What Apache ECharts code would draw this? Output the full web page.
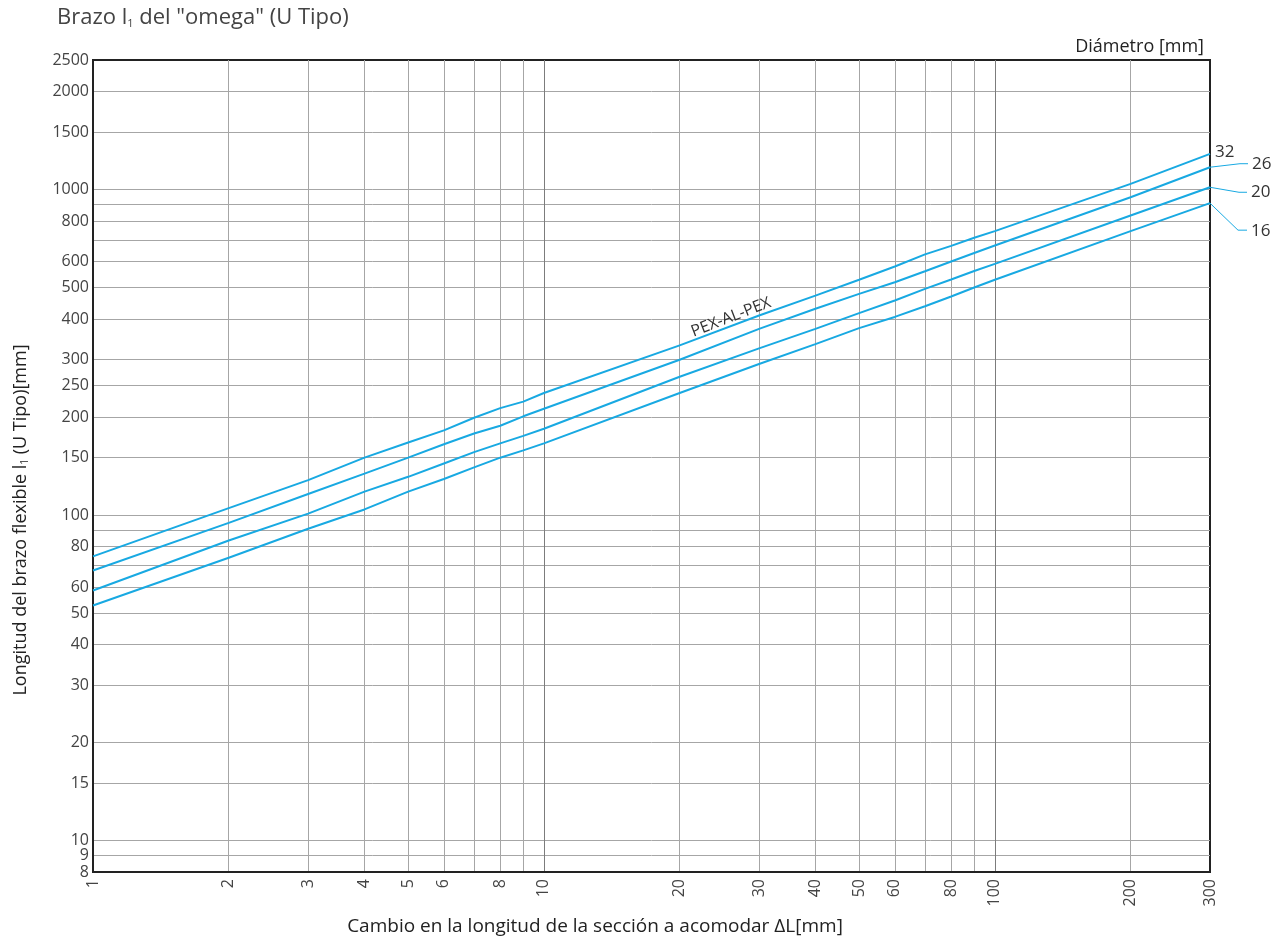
<!DOCTYPE html>
<html lang="es">
<head>
<meta charset="utf-8">
<title>Brazo l1 del omega (U Tipo)</title>
<script src="https://cdn.jsdelivr.net/npm/echarts@6.0.0/dist/echarts.min.js"></script>
<style>
  html, body { margin: 0; padding: 0; background: #fff; }
  #chart-box { width: 1286px; height: 944px; }
</style>
</head>
<body>
<div id="chart-box"></div>
<script>
// valores (mm)
var deltaL = [1, 2, 3, 4, 5, 6, 7, 8, 9, 10, 20, 30, 40, 50, 60, 70, 80, 90, 100, 200, 300];
var d32 = [74.6, 105, 128, 150, 167, 182, 199, 213, 223, 237, 332, 410, 472, 528, 580, 632, 671, 711, 745, 1041, 1287];
var d26 = [67.5, 94.6, 116, 134, 150, 165, 178, 188, 201, 212, 300, 373, 430, 478, 519, 561, 601, 638, 673, 947, 1171];
var d20 = [58.6, 83.5, 101, 118, 131, 144, 156, 166, 175, 184, 266, 325, 373, 417, 456, 495, 529, 562, 591, 832, 1016];
var d16 = [52.7, 73.9, 90.7, 104, 118, 129, 140, 150, 158, 166, 237, 291, 335, 375, 406, 438, 469, 500, 528, 745, 908];
var diametros = ['32', '26', '20', '16'];

var xTicks = [1, 2, 3, 4, 5, 6, 7, 8, 9, 10, 20, 30, 40, 50, 60, 70, 80, 90, 100, 200, 300];
var xLabels = [1, 2, 3, 4, 5, 6, 8, 10, 20, 30, 40, 50, 60, 80, 100, 200, 300];
var yTicks = [8, 9, 10, 15, 20, 30, 40, 50, 60, 70, 80, 90, 100, 150, 200, 250, 300, 400, 500, 600, 700, 800, 900, 1000, 1500, 2000, 2500];
var yLabels = [8, 9, 10, 15, 20, 30, 40, 50, 60, 80, 100, 150, 200, 250, 300, 400, 500, 600, 800, 1000, 1500, 2000, 2500];

var FONT = '"Open Sans", "Noto Sans", sans-serif';
var BLUE = '#18a9e2';

function lg(v) { return Math.log10(v); }
function fmt(v) { return String(Math.round(Math.pow(10, v))); }

var xMin = lg(xTicks[0]), xMax = lg(xTicks[xTicks.length - 1]);
var yMin = lg(yTicks[0]), yMax = lg(yTicks[yTicks.length - 1]);

// lineas de la reticula (sin los bordes)
var xGrid = xTicks.slice(1, -1);
var yGrid = yTicks.slice(1, -1);
var xColors = xGrid.map(function (v) { return (v === 10 || v === 100) ? '#7c7c7c' : '#a6a6a6'; });

var chart = echarts.init(document.querySelector('#chart-box'));

var dataList = [d32, d26, d20, d16].map(function (vals, k) {
  return {
    name: diametros[k],
    type: 'line',
    symbol: 'none',
    lineStyle: { color: BLUE, width: 2 },
    data: deltaL.map(function (x, i) { return [lg(x), lg(vals[i])]; })
  };
});

var options = {
  animation: false,
  title: [{
    text: 'Brazo l{s|1} del "omega" (U Tipo)',
    left: 52,
    top: 2,
    textStyle: {
      fontFamily: FONT, fontSize: 22, fontWeight: 'normal', color: '#444',
      rich: { s: { fontFamily: FONT, fontSize: 11, color: '#444', verticalAlign: 'bottom', lineHeight: 12 } }
    }
  }, {
    text: 'Diámetro [mm]',
    right: 77,
    top: 33,
    textStyle: { fontFamily: FONT, fontSize: 18, fontWeight: 'normal', color: '#222' }
  }],
  grid: { left: 93, right: 76, top: 60, bottom: 72, show: true, borderColor: '#222', borderWidth: 2 },
  xAxis: {
    type: 'value',
    min: xMin,
    max: xMax,
    axisLine: { show: true, onZero: false, lineStyle: { color: '#222', width: 2 } },
    axisTick: { show: false, customValues: xGrid.map(lg) },
    splitLine: { show: true, lineStyle: { color: xColors, width: 1 } },
    axisLabel: {
      customValues: xLabels.map(lg),
      formatter: fmt,
      rotate: 90,
      margin: 7,
      fontFamily: FONT, fontSize: 16, color: '#444'
    }
  },
  yAxis: {
    type: 'value',
    min: yMin,
    max: yMax,
    axisLine: { show: true, onZero: false, lineStyle: { color: '#222', width: 2 } },
    axisTick: { show: false, customValues: yGrid.map(lg) },
    splitLine: { show: true, lineStyle: { color: '#a6a6a6', width: 1 } },
    axisLabel: {
      customValues: yLabels.map(lg),
      formatter: fmt,
      margin: 4,
      fontFamily: FONT, fontSize: 16, color: '#444'
    }
  },
  series: dataList
};

chart.setOption(options);

// etiquetas de diametro con lineas guia, ancladas al ultimo punto de cada serie
var guias = [
  { pts: [], lab: [5, -2] },
  { pts: [[0, 0], [30, -3.5], [38, -3.5]], lab: [42, -3.5] },
  { pts: [[0, 0], [29, 5], [37, 5]], lab: [41, 5] },
  { pts: [[0, 0], [28, 27], [37, 27]], lab: [41, 28] }
];
var extra = [];
[d32, d26, d20, d16].forEach(function (vals, k) {
  var p = chart.convertToPixel({ gridIndex: 0 }, [lg(deltaL[deltaL.length - 1]), lg(vals[vals.length - 1])]);
  var g = guias[k];
  if (g.pts.length) {
    extra.push({
      type: 'polyline',
      shape: { points: g.pts.map(function (q) { return [p[0] + q[0], p[1] + q[1]]; }) },
      style: { stroke: BLUE, lineWidth: 1, fill: null }
    });
  }
  extra.push({
    type: 'text',
    x: p[0] + g.lab[0],
    y: p[1] + g.lab[1],
    style: { text: diametros[k], fontFamily: FONT, fontSize: 17, fill: '#333', align: 'left', verticalAlign: 'middle' }
  });
});

// rotulo PEX-AL-PEX sobre la curva de 32
var pex = chart.convertToPixel({ gridIndex: 0 }, [lg(26), lg(405)]);
extra.push({
  type: 'text',
  x: pex[0],
  y: pex[1],
  rotation: 0.37,
  style: { text: 'PEX-AL-PEX', fontFamily: FONT, fontSize: 16, fill: '#333', align: 'center', verticalAlign: 'middle' }
});

// nombres de los ejes
extra.push({
  type: 'text',
  x: 21,
  y: 520,
  rotation: Math.PI / 2,
  style: {
    text: 'Longitud del brazo flexible l{s|1} (U Tipo)[mm]',
    fontFamily: FONT, fontSize: 18, fill: '#222', align: 'center', verticalAlign: 'middle',
    rich: { s: { fontFamily: FONT, fontSize: 10, fill: '#222', verticalAlign: 'bottom', lineHeight: 10 } }
  }
});
extra.push({
  type: 'text',
  x: 595,
  y: 927,
  style: { text: 'Cambio en la longitud de la sección a acomodar ΔL[mm]', fontFamily: FONT, fontSize: 19, fill: '#222', align: 'center', verticalAlign: 'middle' }
});

chart.setOption({ graphic: extra });
</script>
</body>
</html>
